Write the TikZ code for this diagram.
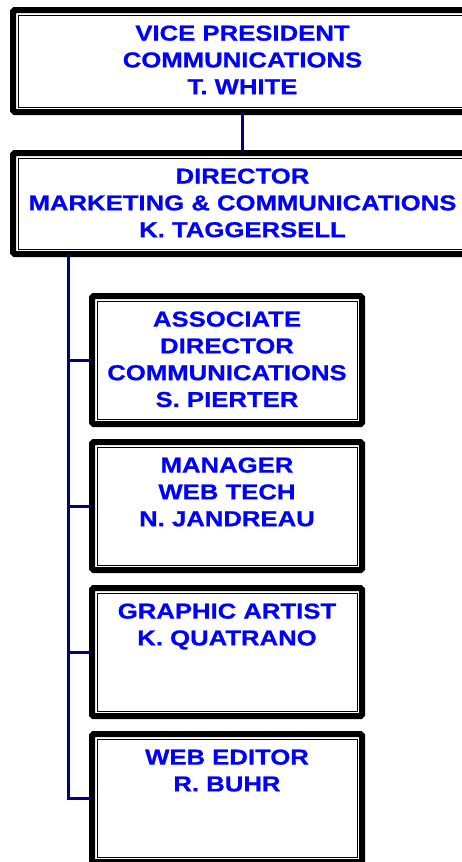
\documentclass[tikz,border=0pt]{standalone}
\usepackage{fontspec}
\usepackage{tikz}
\usetikzlibrary{positioning}
\newfontfamily\boxfont{Liberation Sans}[FakeStretch=1.19, BoldFeatures={FakeBold=0.8}]
\definecolor{txtblue}{RGB}{0,0,255}
\definecolor{linkblue}{RGB}{0,0,128}

\begin{document}
\begin{tikzpicture}[
        x = 1pt, y = -1pt,
        box/.style = {
            draw,
            line width = 6pt,
            rounded corners = 1.5pt,
            minimum width = #1,
            minimum height = 128pt,
            inner sep = 0pt,
            outer sep = 0pt
        },
        box/.default = 270pt,
        title/.style = {
            font = {\boxfont\fontsize{21.6}{26.8}\selectfont\bfseries},
            text = txtblue,
            align = center,
            inner sep = 0pt,
            outer sep = 0pt
        },
        link/.style = {line width = 3pt, draw = linkblue},
        node distance = {18pt}
        ]
        \useasboundingbox (0,0) rectangle (462,862);
        \clip (0,0) rectangle (462,862);
%
        \node[box=459pt, minimum height=102pt] (vp) at (242.5,61) {};
        \node[box=459pt, minimum height=101pt, below=41pt of vp] (dir) {};
%
        \node[box] (assoc) at (227,360) {};
        \node[box, below=of assoc] (mgr) {};
        \node[box, below=of mgr] (artist) {};
        \node[box, below=of artist] (editor) {};
%
        \foreach \b in {vp, dir, assoc, mgr, artist, editor}
            \draw[line width = 1pt] ([shift={(5,5)}]\b.north west) rectangle ([shift={(-5,-5)}]\b.south east);
%
        \node[title, below=15.5pt of vp.north] (vptext) {VICE PRESIDENT\\COMMUNICATIONS\\T. WHITE};
        \node[title, below=15.5pt of dir.north] (dirtext) {DIRECTOR\\MARKETING \& COMMUNICATIONS\\K. TAGGERSELL};
        \node[title, below=15.5pt of assoc.north] (assoctext) {ASSOCIATE\\DIRECTOR\\COMMUNICATIONS\\S. PIERTER};
        \node[title, below=15.5pt of mgr.north] (mgrtext) {MANAGER\\WEB TECH\\N. JANDREAU};
        \node[title, below=15.5pt of artist.north] (artisttext) {GRAPHIC ARTIST\\K. QUATRANO};
        \node[title, below=15.5pt of editor.north] (editortext) {WEB EDITOR\\R. BUHR};
%
        \coordinate (trunk) at (68,0);
%
        \draw[link] (vp.south) -- (dir.north);
        \draw[link] (trunk |- dir.south) |- (editor.west);
        \foreach \b in {assoc, mgr, artist}
            \draw[link] (trunk |- \b.west) -- (\b.west);
%
    \end{tikzpicture}
\end{document}
